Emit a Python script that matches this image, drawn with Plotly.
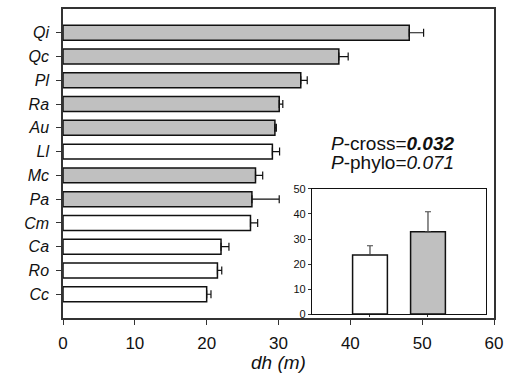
import plotly.graph_objects as go

species = ["Qi", "Qc", "Pl", "Ra", "Au", "Ll", "Mc", "Pa", "Cm", "Ca", "Ro", "Cc"]
dh = [48.2, 38.4, 33.1, 30.1, 29.5, 29.15, 26.8, 26.3, 26.1, 22.0, 21.5, 20.0]
dh_err = [2.0, 1.3, 0.9, 0.5, 0.2, 1.0, 1.0, 3.8, 1.0, 1.1, 0.6, 0.6]
group = ["g", "g", "g", "g", "g", "w", "g", "g", "w", "w", "w", "w"]

inset_groups = ["white", "gray"]
inset_vals = [23.6, 32.9]
inset_err = [3.7, 8.0]

x_ticks = [0, 10, 20, 30, 40, 50, 60]
inset_ticks = [0, 10, 20, 30, 40, 50]

GRAY = "#c0c0c0"
colors = [GRAY if g == "g" else "white" for g in group]
FONT = "Arial, Liberation Sans, sans-serif"

fig = go.Figure()
fig.add_trace(go.Bar(
    x=dh, y=species, orientation="h", width=0.63,
    marker=dict(color=colors, line=dict(color="#111", width=1.5)),
    error_x=dict(type="data", array=dh_err, arrayminus=[0]*len(dh_err),
                 symmetric=False, color="#111", thickness=1.2, width=4),
    showlegend=False, xaxis="x", yaxis="y",
))
fig.add_trace(go.Bar(
    x=inset_groups, y=inset_vals, width=0.6,
    marker=dict(color=["white", GRAY], line=dict(color="#111", width=1.5)),
    error_y=dict(type="data", array=inset_err, arrayminus=[0, 0],
                 symmetric=False, color="#444", thickness=1.2, width=3),
    showlegend=False, xaxis="x2", yaxis="y2",
))

fig.update_layout(
    width=516, height=376,
    margin=dict(l=63, r=22, t=9, b=58, autoexpand=False),
    paper_bgcolor="white", plot_bgcolor="white",
    font=dict(family=FONT, color="#111"),
    xaxis=dict(domain=[0, 1], range=[0, 60], tickvals=x_ticks, ticks="outside",
               ticklen=5, tickcolor="#333", showline=True, linecolor="#333",
               linewidth=1.5, mirror=True, showgrid=False, zeroline=False,
               automargin=False, tickfont=dict(size=17), ticklabelstandoff=4),
    yaxis=dict(domain=[0, 1], type="category", categoryorder="array",
               categoryarray=list(reversed(species)), range=[-1, 12],
               ticks="outside", ticklen=5, tickcolor="#333", showline=True,
               linecolor="#333", linewidth=1.5, mirror=True, showgrid=False,
               zeroline=False, automargin=False, tickfont=dict(size=16),
               ticklabelstandoff=4, tickprefix="<i>", ticksuffix="</i>"),
    xaxis2=dict(domain=[0.5777, 0.9814], anchor="y2", type="category",
                range=[-1, 2], showticklabels=False, ticks="outside", ticklen=2,
                tickcolor="#333", showline=True, linecolor="#111", linewidth=1.2,
                mirror=True, showgrid=False, zeroline=False, automargin=False),
    yaxis2=dict(domain=[0.0129, 0.4175], anchor="x2", range=[0, 50],
                tickvals=inset_ticks, ticks="outside", ticklen=3, tickcolor="#333",
                showline=True, linecolor="#111", linewidth=1.2, mirror=True,
                showgrid=False, zeroline=False, automargin=False,
                tickfont=dict(size=11)),
    annotations=[
        dict(text="<i>dh (m)</i>", xref="paper", yref="paper",
             x=0.5, y=-0.143, xanchor="center", yanchor="middle", showarrow=False,
             font=dict(size=19)),
        dict(text="<i>P</i>-cross=<b><i>0.032</i></b>", xref="paper", yref="paper",
             x=0.618, y=0.566, xanchor="left", yanchor="middle", showarrow=False,
             font=dict(size=19)),
        dict(text="<i>P</i>-phylo=<i>0.071</i>", xref="paper", yref="paper",
             x=0.618, y=0.502, xanchor="left", yanchor="middle", showarrow=False,
             font=dict(size=19)),
    ],
)

fig.write_html("out.html", config={"displayModeBar": False},
               post_script="document.body.style.margin='0';document.body.style.padding='0';")
